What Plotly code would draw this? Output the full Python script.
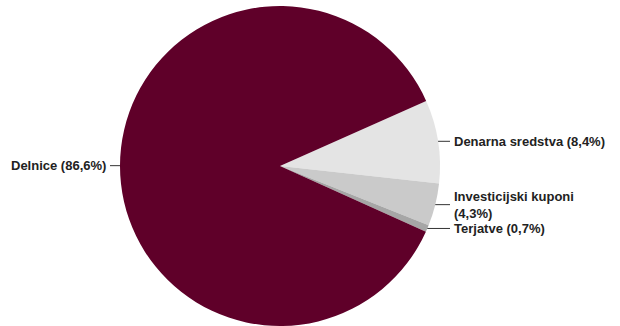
import math
import plotly.graph_objects as go

categories = ["Denarna sredstva", "Investicijski kuponi", "Terjatve", "Delnice"]
values = [8.4, 4.3, 0.7, 86.6]
colors = ["#E4E4E4", "#CACACA", "#A6A6A6", "#5F0029"]

W, H = 620, 326
cx, cy, r = 280, 166, 160
start_deg = 24.0  # angle (from 3 o'clock, counter-clockwise) where first slice begins

fig = go.Figure(go.Pie(
    labels=categories, values=values, sort=False, direction="clockwise",
    rotation=90 - start_deg,
    marker=dict(colors=colors, line=dict(width=0)),
    textinfo="none", hoverinfo="none", showlegend=False,
    domain=dict(x=[(cx - r) / W, (cx + r) / W], y=[(H - cy - r) / H, (H - cy + r) / H]),
))

def px(x):
    return x / W

def py(y):
    return 1 - y / H

total = sum(values)
acc = 0.0
shapes, annotations = [], []
for name, v in zip(categories, values):
    a0 = start_deg - 360 * acc / total
    acc += v
    a1 = start_deg - 360 * acc / total
    mid = math.radians((a0 + a1) / 2)
    ex = cx + r * math.cos(mid)
    ey = cy - r * math.sin(mid)
    pct = f"{v:.1f}".replace(".", ",")
    if ex >= cx:
        lx = 450
        text = f"{name} ({pct}%)"
        if name == "Investicijski kuponi":
            text = f"{name}<br>({pct}%)"
        tx, anchor = lx + 2, "left"
    else:
        lx = 110
        text = f"{name} ({pct}%)"
        tx, anchor = lx - 2, "right"
    shapes.append(dict(type="line", xref="paper", yref="paper",
                       x0=px(ex), y0=py(ey), x1=px(lx), y1=py(ey),
                       line=dict(color="#333333", width=1)))
    annotations.append(dict(xref="paper", yref="paper", x=px(tx), y=py(ey),
                            text=f"<b>{text}</b>", showarrow=False,
                            xanchor=anchor, yanchor="middle", align="left",
                            font=dict(family="Liberation Sans, Arial", size=13, color="#222222")))

fig.update_layout(
    width=W, height=H, margin=dict(l=0, r=0, t=0, b=0),
    paper_bgcolor="white", plot_bgcolor="white",
    shapes=shapes, annotations=annotations,
)
fig.write_html("out.html", config={"displayModeBar": False},
               post_script="document.body.style.margin='0';")
